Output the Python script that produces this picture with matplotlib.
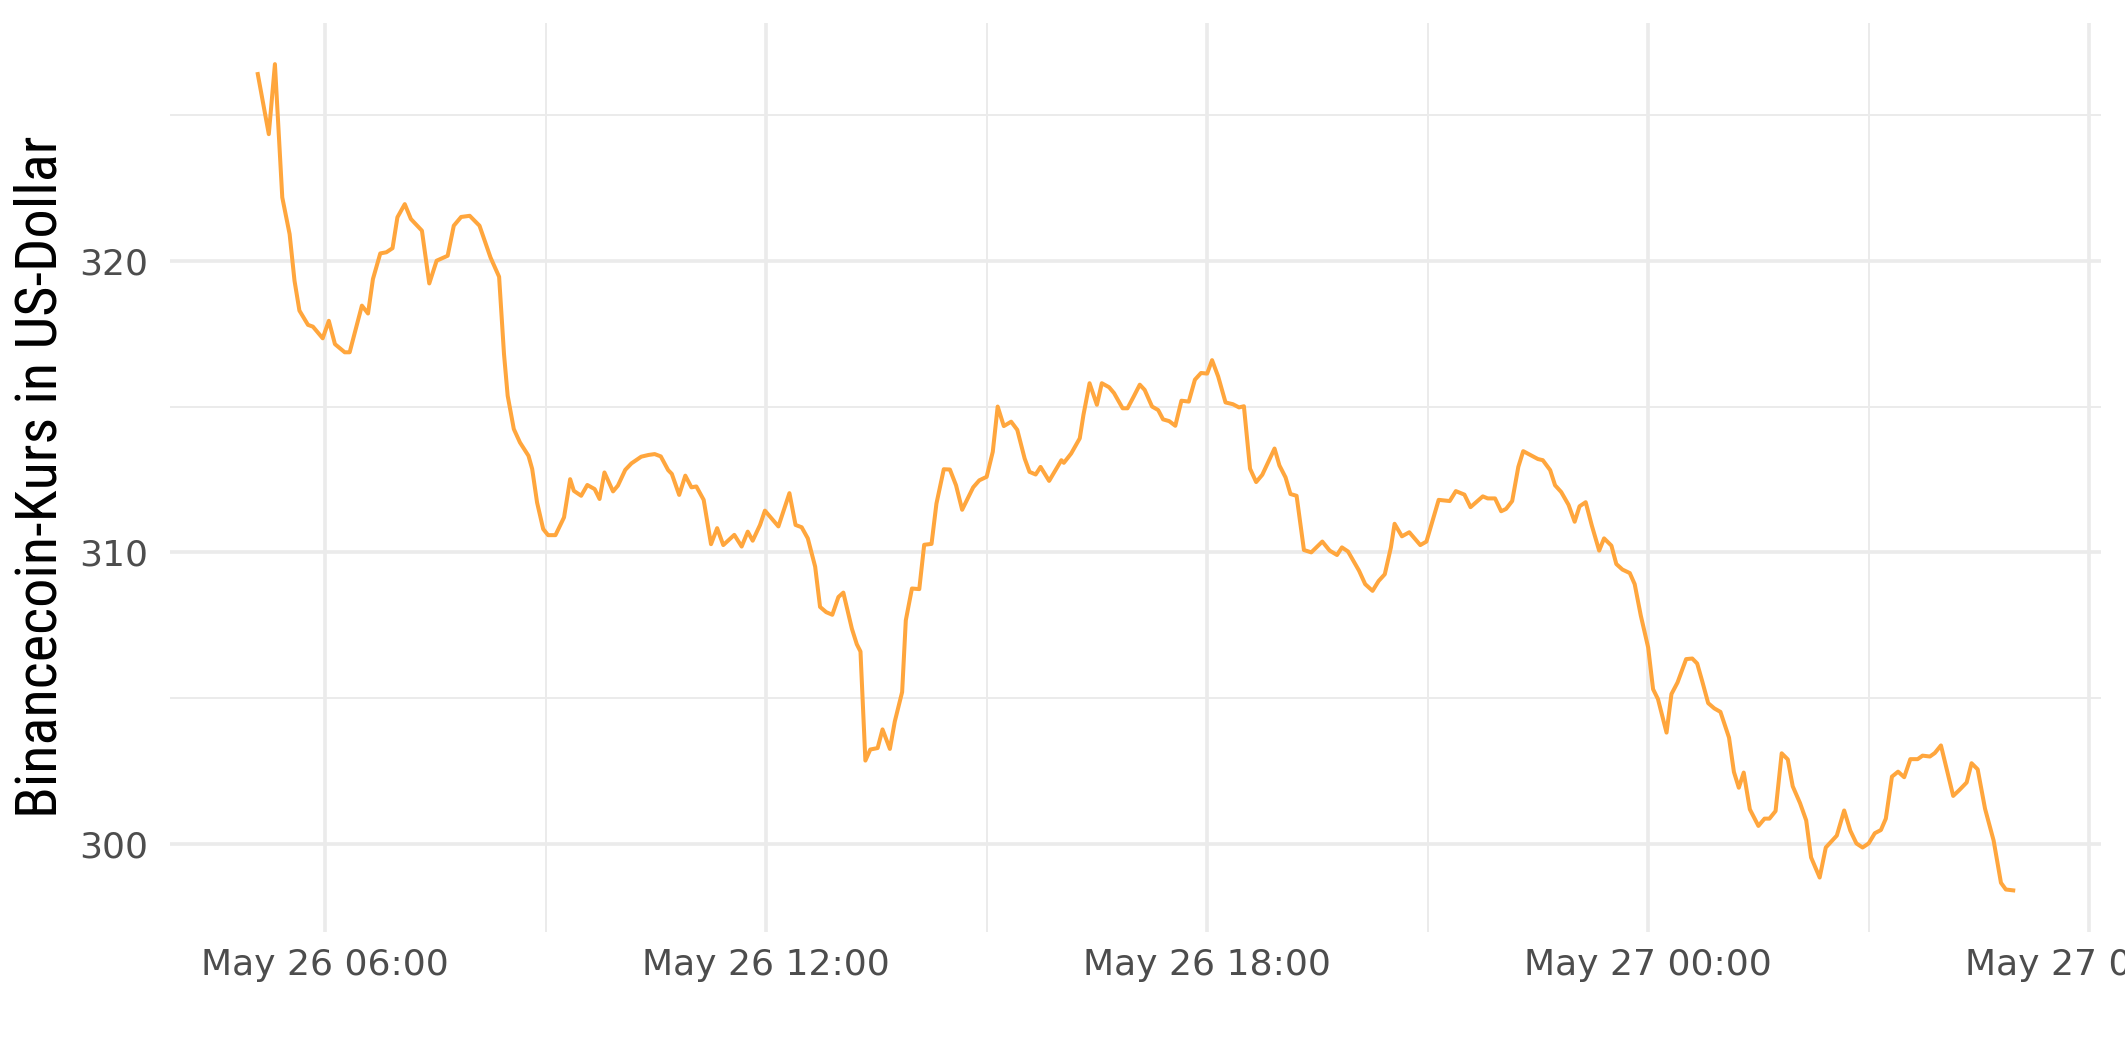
import os
import pandas as pd
import numpy as np
import matplotlib.pyplot as plt
import matplotlib.dates as mdates
from matplotlib import font_manager
from matplotlib.font_manager import FontProperties
from matplotlib.ticker import MultipleLocator

# minutes after 2021-05-26 05:00
minutes = [5, 14, 19, 25, 31, 35, 39, 46, 50, 54, 58, 63, 68, 76, 80, 90, 95, 99,
           105, 110, 115, 119, 125, 130, 139, 145, 151, 160, 165, 171, 178, 186,
           195, 202, 206, 209, 214, 219, 226, 229, 233, 238, 242, 248, 255, 260,
           263, 269, 274, 280, 284, 288, 295, 299, 305, 310, 318, 324, 329, 334,
           340, 343, 349, 354, 359, 363, 369, 375, 380, 385, 394, 400, 405, 409,
           415, 419, 430, 439, 444, 449, 454, 460, 464, 469, 474, 479, 483, 490,
           494, 497, 501, 505, 511, 515, 521, 525, 531, 534, 539, 545, 549, 555,
           559, 565, 570, 575, 580, 589, 594, 600, 605, 609, 614, 620, 625, 631,
           635, 640, 644, 651, 661, 663, 669, 676, 679, 684, 690, 694, 700, 704,
           711, 715, 720, 725, 729, 735, 740, 744, 749, 754, 759, 765, 770, 775,
           780, 784, 789, 795, 801, 806, 810, 815, 820, 825, 835, 839, 844, 848,
           853, 859, 865, 874, 880, 886, 890, 895, 904, 909, 915, 920, 925, 930,
           933, 939, 945, 954, 959, 964, 969, 978, 983, 990, 995, 1005, 1009,
           1015, 1020, 1024, 1029, 1034, 1038, 1045, 1050, 1054, 1060, 1064,
           1069, 1075, 1080, 1084, 1089, 1094, 1100, 1104, 1110, 1114, 1119,
           1125, 1129, 1134, 1140, 1144, 1148, 1155, 1159, 1164, 1171, 1176,
           1180, 1184, 1189, 1194, 1199, 1206, 1210, 1214, 1218, 1223, 1230,
           1235, 1239, 1244, 1249, 1254, 1258, 1264, 1269, 1273, 1280, 1285,
           1294, 1300, 1305, 1310, 1315, 1320, 1325, 1330, 1334, 1339, 1344,
           1349, 1354, 1360, 1364, 1370, 1374, 1379, 1389, 1394, 1400, 1404,
           1409, 1415, 1422, 1428, 1432, 1438]

price = [326.40, 324.34, 326.74, 322.17, 320.91, 319.31, 318.29, 317.80, 317.74,
         317.54, 317.34, 317.94, 317.14, 316.86, 316.86, 318.46, 318.19, 319.37,
         320.25, 320.29, 320.43, 321.49, 321.94, 321.43, 321.03, 319.22, 320.00,
         320.17, 321.20, 321.50, 321.54, 321.20, 320.11, 319.45, 316.80, 315.37,
         314.23, 313.77, 313.31, 312.86, 311.71, 310.80, 310.59, 310.59, 311.20,
         312.51, 312.11, 311.94, 312.31, 312.17, 311.83, 312.74, 312.09, 312.29,
         312.83, 313.05, 313.28, 313.34, 313.37, 313.29, 312.82, 312.69, 311.97,
         312.63, 312.23, 312.26, 311.80, 310.28, 310.83, 310.25, 310.60, 310.20,
         310.71, 310.40, 310.94, 311.43, 310.89, 312.03, 310.94, 310.86, 310.48,
         309.51, 308.13, 307.95, 307.86, 308.47, 308.62, 307.38, 306.85, 306.60,
         302.86, 303.24, 303.29, 303.93, 303.26, 304.20, 305.21, 307.67, 308.76,
         308.74, 310.26, 310.29, 311.67, 312.85, 312.84, 312.30, 311.46, 312.23,
         312.47, 312.59, 313.45, 315.00, 314.33, 314.48, 314.20, 313.22, 312.76,
         312.67, 312.93, 312.45, 313.16, 313.07, 313.39, 313.91, 314.71, 315.80,
         315.06, 315.80, 315.66, 315.46, 314.94, 314.94, 315.34, 315.75, 315.57,
         315.00, 314.88, 314.56, 314.50, 314.34, 315.20, 315.17, 315.92, 316.15,
         316.13, 316.59, 316.03, 315.14, 315.08, 314.97, 315.01, 312.87, 312.41,
         312.66, 313.56, 312.98, 312.57, 312.00, 311.94, 310.08, 310.00, 310.37,
         310.06, 309.91, 310.17, 310.03, 309.37, 308.91, 308.68, 309.02, 309.25,
         310.17, 310.98, 310.55, 310.69, 310.25, 310.37, 311.09, 311.80, 311.76,
         312.10, 311.98, 311.55, 311.92, 311.85, 311.85, 311.41, 311.49, 311.76,
         312.93, 313.47, 313.31, 313.20, 313.16, 312.82, 312.30, 312.07, 311.63,
         311.05, 311.58, 311.72, 310.92, 310.06, 310.48, 310.23, 309.60, 309.41,
         309.29, 308.91, 307.83, 306.74, 305.31, 304.97, 303.82, 305.14, 305.54,
         306.34, 306.36, 306.19, 305.60, 304.83, 304.65, 304.53, 303.65, 302.47,
         301.93, 302.45, 301.19, 300.62, 300.87, 300.87, 301.13, 303.11, 302.90,
         301.98, 301.40, 300.81, 299.54, 298.85, 299.88, 300.29, 301.15, 300.46,
         300.02, 299.88, 300.02, 300.37, 300.48, 300.87, 302.31, 302.48, 302.29,
         302.91, 302.91, 303.03, 303.00, 303.12, 303.38, 301.65, 301.85, 302.11,
         302.77, 302.56, 301.21, 300.12, 298.67, 298.44, 298.41]

y_label = "Binancecoin-Kurs in US-Dollar"
line_color = "#ffa63d"
grid_color = "#ebebeb"
text_color = "#4d4d4d"


def label_font():
    """Pick a narrow font for the y label if one is installed."""
    fonts = font_manager.fontManager.ttflist
    for want in ("Liberation Sans Narrow", "Roboto Condensed", "Open Sans Condensed"):
        for f in fonts:
            if f.name == want and f.style == "normal" and f.weight in (400, "normal", "regular"):
                return FontProperties(fname=f.fname, size=21)
    for f in fonts:
        base = os.path.basename(f.fname)
        if ("Condensed" in base or "Narrow" in base) and "Bold" not in base \
                and "Oblique" not in base and "Italic" not in base:
            return FontProperties(fname=f.fname, size=21)
    return FontProperties(family="Roboto", size=18)


def main():
    start = pd.Timestamp("2021-05-26 05:00")
    times = start + pd.to_timedelta(minutes, unit="m")
    y = np.array(price)

    fig = plt.figure(figsize=(10.625, 5.31), dpi=200)
    ax = fig.add_axes([0.080, 0.1227, 0.9087, 0.8558])

    ax.plot(times, y, color=line_color, linewidth=1.45, solid_joinstyle="round")

    # ggplot-like 5% expansion
    span_t = times.max() - times.min()
    ax.set_xlim(times.min() - 0.05 * span_t, times.max() + 0.05 * span_t)
    span_y = y.max() - y.min()
    ax.set_ylim(y.min() - 0.05 * span_y, y.max() + 0.05 * span_y)

    ax.xaxis.set_major_locator(mdates.HourLocator(byhour=[0, 6, 12, 18]))
    ax.xaxis.set_minor_locator(mdates.HourLocator(byhour=[3, 9, 15, 21]))
    ax.xaxis.set_major_formatter(mdates.DateFormatter("%b %d %H:%M"))
    ax.yaxis.set_major_locator(MultipleLocator(10))
    ax.yaxis.set_minor_locator(MultipleLocator(5))

    ax.grid(which="major", color=grid_color, linewidth=1.3)
    ax.grid(which="minor", color=grid_color, linewidth=0.7)
    ax.set_axisbelow(True)
    for s in ax.spines.values():
        s.set_visible(False)

    ax.tick_params(axis="both", which="both", length=0, labelsize=13, labelcolor=text_color)
    ax.tick_params(axis="x", pad=6)
    ax.tick_params(axis="y", pad=8)

    fig.text(0.0195, 0.5513, y_label, rotation=90, ha="center", va="center",
             color="black", fontproperties=label_font())

    fig.savefig("out.png", dpi=200, facecolor="white")


if __name__ == "__main__":
    main()
